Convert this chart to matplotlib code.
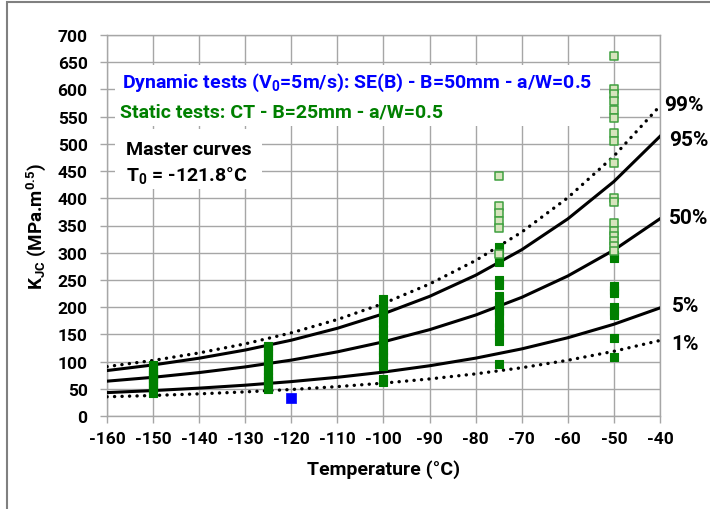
import matplotlib
matplotlib.use("Agg")
import matplotlib.pyplot as plt
from matplotlib.patches import Rectangle

FONT = ['Roboto', 'DejaVu Sans']
plt.rcParams['font.family'] = FONT
plt.rcParams['font.weight'] = 'bold'
plt.rcParams['axes.unicode_minus'] = False
plt.rcParams['mathtext.fontset'] = 'custom'
plt.rcParams['mathtext.rm'] = 'Roboto:bold'
plt.rcParams['mathtext.it'] = 'Roboto:bold'
plt.rcParams['mathtext.bf'] = 'Roboto:bold'

# Master curve values
curve_T = [-160, -150, -140, -130, -120, -110, -100, -90, -80, -70, -60, -50, -40]
k_p01 = [35.3, 37.7, 40.7, 44.3, 48.7, 54.0, 60.4, 68.1, 77.4, 88.7, 102.4, 118.9, 138.8]
k_p05 = [43.0, 46.7, 51.2, 56.6, 63.2, 71.1, 80.7, 92.3, 106.3, 123.3, 143.8, 168.6, 198.6]
k_p50 = [64.0, 71.1, 79.8, 90.2, 102.7, 117.9, 136.3, 158.6, 185.5, 218.0, 257.3, 304.9, 362.4]
k_p95 = [83.5, 93.8, 106.2, 121.2, 139.3, 161.2, 187.8, 219.8, 258.6, 305.5, 362.2, 430.8, 513.8]
k_p99 = [90.7, 102.1, 115.9, 132.6, 152.8, 177.3, 206.8, 242.5, 285.7, 337.9, 401.1, 477.5, 569.8]
curve_labels = ['1%', '5%', '50%', '95%', '99%']

# Static tests (valid, filled)
static_T = ([-150] * 12 + [-125] * 13 + [-100] * 17 + [-75] * 16 + [-50] * 10)
static_K = ([42, 47, 52, 57, 62, 66, 70, 74, 78, 83, 88, 93]
            + [50, 55, 60, 65, 72, 78, 85, 92, 100, 106, 115, 122, 128]
            + [215, 205, 195, 185, 178, 170, 160, 150, 140, 130, 122, 115, 108, 100, 92, 68, 62]
            + [310, 300, 290, 283, 250, 240, 220, 210, 200, 192, 185, 170, 163, 152, 138, 95]
            + [295, 290, 238, 232, 226, 200, 192, 185, 143, 108])

# Static tests (censored, open)
cens_T = [-75] * 6 + [-50] * 17
cens_K = [441, 386, 373, 358, 345, 298,
          661, 601, 592, 579, 562, 547, 520, 505, 465, 400, 393, 355, 340, 331, 322, 312, 303]

# Dynamic tests
dyn_T = [-120]
dyn_K = [33]

xticks = list(range(-160, -39, 10))
yticks = list(range(0, 701, 50))

fig = plt.figure(figsize=(7.1, 5.1), dpi=100)
fig.patch.set_facecolor('white')
fig.add_artist(Rectangle((7 / 710, -0.05), 1.1, 1.05 - 3 / 510, transform=fig.transFigure,
                         fill=False, edgecolor='#808080', linewidth=1.5))

ax = fig.add_axes([107 / 710, 1 - 417 / 510, 553 / 710, 381 / 510])
ax.set_xlim(-160, -40)
ax.set_ylim(0, 700)
ax.set_xticks(xticks)
ax.set_yticks(yticks)
ax.grid(True, color='#a6a6a6', linewidth=1.0)
ax.set_axisbelow(True)
for s in ax.spines.values():
    s.set_color('#a6a6a6')
    s.set_linewidth(1.0)
ax.tick_params(axis='both', direction='out', length=5, color='#a6a6a6', width=1.0,
               labelsize=12.5)
ax.tick_params(axis='y', pad=9)
ax.tick_params(axis='x', pad=6)
for lbl in ax.get_xticklabels() + ax.get_yticklabels():
    lbl.set_fontweight('bold')

ax.add_patch(Rectangle((0.0145, 0.761), 0.877, 0.160, transform=ax.transAxes,
                       facecolor='white', edgecolor='none', zorder=2))
ax.add_patch(Rectangle((0.0145, 0.596), 0.266, 0.157, transform=ax.transAxes,
                       facecolor='white', edgecolor='none', zorder=2))

dot = (0, (0.05, 2.2))
ax.plot(curve_T, k_p01, color='black', linestyle=dot, linewidth=2.4,
        dash_capstyle='round', zorder=3)
ax.plot(curve_T, k_p99, color='black', linestyle=dot, linewidth=2.4,
        dash_capstyle='round', zorder=3)
ax.plot(curve_T, k_p05, color='black', linewidth=2.2, zorder=3)
ax.plot(curve_T, k_p50, color='black', linewidth=2.2, zorder=3)
ax.plot(curve_T, k_p95, color='black', linewidth=2.2, zorder=3)

ax.scatter(static_T, static_K, marker='s', s=32, color='#008000', edgecolors='#008000',
           linewidths=0.8, zorder=4)
ax.scatter(cens_T, cens_K, marker='s', s=30, color='#d7e4bd', edgecolors='#3fa03f',
           linewidths=1.1, zorder=5)
ax.scatter(dyn_T, dyn_K, marker='s', s=42, color='#0000ff', edgecolors='#0000ff',
           linewidths=0.5, zorder=4)

label_y = [138.8, 198.6, 362.4, 513.8, 569.8]
label_dy = [-5, 5, 3, -5, 3]
label_dx = [2.5, 2.5, 2.0, 2.0, 1.0]
for lab, yv, dy, dx in zip(curve_labels, label_y, label_dy, label_dx):
    ax.text(-40 + dx, yv + dy, lab, fontsize=15, fontweight='bold', ha='left',
            va='center', clip_on=False)

ax.text(0.027, 0.877, 'Dynamic tests (V$_0$=5m/s): SE(B) - B=50mm - a/W=0.5',
        transform=ax.transAxes, color='#0000ff', fontsize=14, fontweight='bold',
        ha='left', va='center', zorder=6)
ax.text(0.024, 0.800, 'Static tests: CT - B=25mm - a/W=0.5',
        transform=ax.transAxes, color='#008000', fontsize=14, fontweight='bold',
        ha='left', va='center', zorder=6)
ax.text(0.034, 0.701, 'Master curves', transform=ax.transAxes, color='black',
        fontsize=14, fontweight='bold', ha='left', va='center', zorder=6)
ax.text(0.034, 0.633, 'T$_0$ = -121.8°C', transform=ax.transAxes, color='black',
        fontsize=14, fontweight='bold', ha='left', va='center', zorder=6)

ax.set_xlabel('Temperature (°C)', fontsize=14, fontweight='bold', labelpad=9)
ax.set_ylabel('K$_{JC}$ (MPa.m$^{0.5}$)', fontsize=13.5, fontweight='bold', labelpad=7)

fig.savefig('out.png', dpi=100, facecolor='white')
